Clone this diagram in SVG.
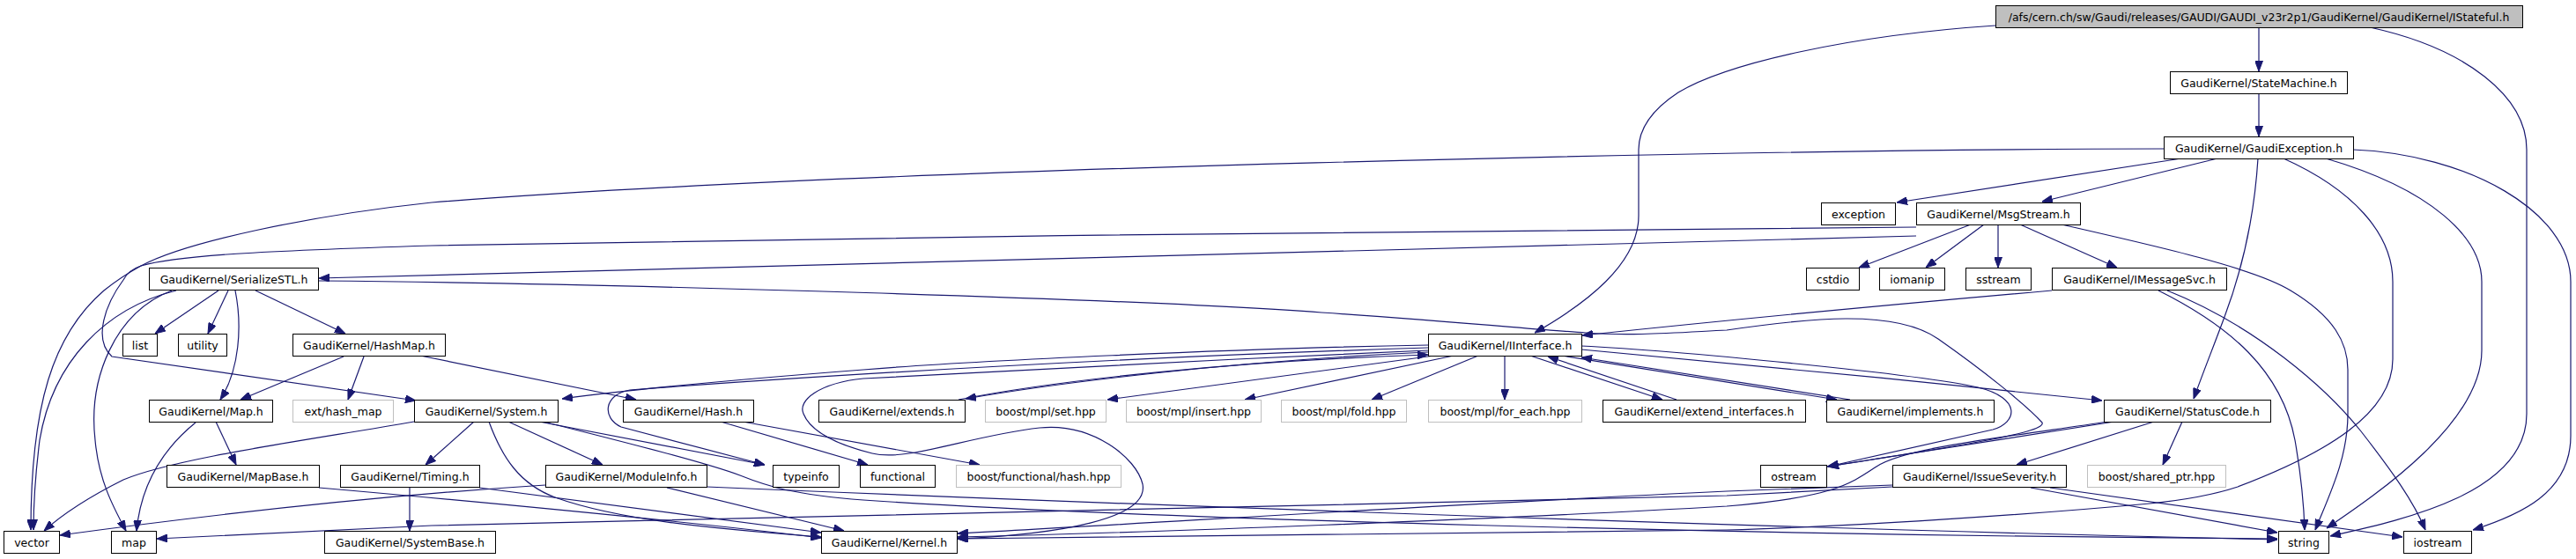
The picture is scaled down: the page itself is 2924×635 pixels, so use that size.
<svg xmlns="http://www.w3.org/2000/svg" width="2924" height="635" viewBox="0 0 2924 635">
<style>
.node rect{fill:#ffffff;stroke:#000000;stroke-width:1}
.node rect.ext{stroke:#bfbfbf}
.node rect.root{fill:#bfbfbf}
.node text{font-family:"DejaVu Sans","Liberation Sans",sans-serif;font-size:12.5px;text-anchor:middle;fill:#000000}
.edges path{fill:none;stroke:#191970;stroke-width:1.2;marker-end:url(#arr)}
</style>
<defs>
<marker id="arr" markerWidth="12" markerHeight="9" refX="12" refY="4.5" orient="auto" markerUnits="userSpaceOnUse">
<path d="M0,0 L12,4.5 L0,9 z" fill="#191970" stroke="#191970" stroke-width="1"/>
</marker>
</defs>
<rect width="2924" height="635" fill="#ffffff"/>
<g id="edges" class="edges">
<path d="M2564,31 L2564,81"/>
<path d="M2265,29 C2100,40 1960,72 1905,105 C1870,128 1860,150 1860,170 L1860,245 C1860,300 1800,345 1742,378"/>
<path d="M2690,31 C2800,55 2868,110 2868,170 L2868,470 C2868,560 2730,590 2645,609"/>
<path d="M2564,106 L2564,155"/>
<path d="M2476,180 L2153,230"/>
<path d="M2517,180 L2318,229"/>
<path d="M2563,180 C2558,260 2540,320 2525,360 C2512,395 2500,425 2490,453"/>
<path d="M2592,180 C2670,215 2716,265 2716,320 L2716,408 C2716,470 2640,515 2540,553 C2510,563 2480,568 2440,572 C2300,585 2100,598 1960,602 C1600,608 1300,611 1087,612"/>
<path d="M2640,180 C2760,215 2817,270 2817,320 L2817,398 C2817,480 2700,560 2641,600"/>
<path d="M2671,170 C2800,175 2918,240 2918,320 L2918,495 C2918,560 2860,585 2807,602"/>
<path d="M2456,169 C2000,170 1000,190 490,230 C350,245 210,275 160,302 C140,313 128,322 118,330 C60,380 35,460 35,602"/>
<path d="M2175,258 C1800,261 1000,268 490,279 C300,285 200,290 160,302 C148,306 143,312 140,318 C120,345 105,385 127,405 L472,455"/>
<path d="M2175,268 C1500,285 900,305 362,316"/>
<path d="M2237,255 L2110,304"/>
<path d="M2252,255 L2186,304"/>
<path d="M2268,255 L2268,304"/>
<path d="M2293,255 L2403,304"/>
<path d="M2340,255 C2450,280 2560,305 2600,330 C2650,360 2665,390 2665,420 L2665,470 C2665,520 2645,560 2628,602"/>
<path d="M2329,330 C2100,350 1900,370 1796,381"/>
<path d="M2450,330 C2530,370 2590,420 2605,500 C2612,540 2615,570 2616,602"/>
<path d="M2460,330 C2560,370 2640,440 2680,490 C2715,535 2740,570 2753,602"/>
<path d="M248,330 L176,379"/>
<path d="M259,330 L236,379"/>
<path d="M267,330 C275,370 272,420 250,454"/>
<path d="M290,330 L392,379"/>
<path d="M200,330 C120,350 60,410 45,500 C40,540 38,570 38,602"/>
<path d="M195,330 C130,355 100,430 108,500 C112,545 128,575 143,603"/>
<path d="M362,319 C700,322 1300,340 1500,355 C1650,365 1750,375 1800,378 C1850,382 1900,378 1960,375 C2050,362 2150,350 2200,385 C2250,420 2300,460 2318,480 C2325,492 2200,510 2075,530"/>
<path d="M390,405 L273,454"/>
<path d="M413,405 L395,454"/>
<path d="M477,404 L722,454"/>
<path d="M245,479 L268,528"/>
<path d="M222,480 C185,510 160,550 155,603"/>
<path d="M538,479 L483,528"/>
<path d="M577,479 L684,528"/>
<path d="M555,479 C570,520 590,550 630,565 C700,590 800,600 932,610"/>
<path d="M612,479 L868,528"/>
<path d="M617,479 C700,500 800,525 840,540 C870,552 900,562 980,568 C1300,590 2000,608 2585,612"/>
<path d="M470,479 C350,500 200,520 140,545 C100,565 70,585 50,603"/>
<path d="M818,479 L985,528"/>
<path d="M843,479 L1112,528"/>
<path d="M1621,392 C1400,396 1100,410 980,420 C850,430 720,442 638,453"/>
<path d="M1621,395 C1300,405 950,425 715,443 C685,448 683,475 705,485 L868,528"/>
<path d="M1621,398 C1400,408 1100,422 980,430 C930,435 905,455 912,470 C920,490 950,505 990,515 C1030,525 1100,495 1180,486 C1240,480 1290,520 1297,550 C1305,590 1200,607 1087,612"/>
<path d="M1621,400 C1400,410 1200,435 1096,453"/>
<path d="M1088,454 C1200,432 1400,410 1621,403"/>
<path d="M1628,404 L1257,454"/>
<path d="M1650,404 L1413,454"/>
<path d="M1678,404 L1557,454"/>
<path d="M1708,404 L1708,454"/>
<path d="M1737,404 L1887,454"/>
<path d="M1903,454 L1757,405"/>
<path d="M1773,404 L2085,454"/>
<path d="M2100,454 L1795,406"/>
<path d="M1795,397 C1960,412 2200,435 2386,455"/>
<path d="M1795,393 C1900,398 2180,425 2245,440 C2295,452 2290,480 2262,488 L2075,530"/>
<path d="M2477,479 L2455,528"/>
<path d="M2445,479 L2289,528"/>
<path d="M2400,479 L2074,530"/>
<path d="M2393,479 C2250,500 2160,510 2130,530 C2100,550 2080,565 1960,575 C1700,590 1300,605 1087,610"/>
<path d="M2148,551 L1960,558 C1600,575 1300,595 1087,606"/>
<path d="M2148,553 L1960,563 C1500,575 1000,585 490,597 L178,612"/>
<path d="M2305,554 L2585,605"/>
<path d="M2327,554 L2727,610"/>
<path d="M757,554 L958,603"/>
<path d="M802,553 C1200,570 2000,600 2585,613"/>
<path d="M619,551 C400,565 200,590 68,608"/>
<path d="M465,554 L465,603"/>
<path d="M544,554 C700,575 850,595 932,605"/>
<path d="M362,554 C600,575 800,595 932,611"/>
</g>
<g id="n_root" class="node"><rect class="root" x="2265.5" y="6.5" width="598" height="25"/><text x="2564" y="23.5">/afs/cern.ch/sw/Gaudi/releases/GAUDI/GAUDI_v23r2p1/GaudiKernel/GaudiKernel/IStateful.h</text></g>
<g id="n_statemachine" class="node"><rect x="2463.5" y="81.5" width="201" height="25"/><text x="2564" y="98.5">GaudiKernel/StateMachine.h</text></g>
<g id="n_gaudiexception" class="node"><rect x="2456.5" y="155.5" width="215" height="25"/><text x="2564" y="172.5">GaudiKernel/GaudiException.h</text></g>
<g id="n_exception" class="node"><rect x="2067.5" y="230.5" width="84" height="25"/><text x="2109.5" y="247.5">exception</text></g>
<g id="n_msgstream" class="node"><rect x="2175.5" y="230.5" width="186" height="25"/><text x="2268.5" y="247.5">GaudiKernel/MsgStream.h</text></g>
<g id="n_serializestl" class="node"><rect x="169.5" y="304.5" width="192" height="25"/><text x="265.5" y="321.5">GaudiKernel/SerializeSTL.h</text></g>
<g id="n_cstdio" class="node"><rect x="2050.5" y="304.5" width="60" height="25"/><text x="2080.5" y="321.5">cstdio</text></g>
<g id="n_iomanip" class="node"><rect x="2133.5" y="304.5" width="74" height="25"/><text x="2170.5" y="321.5">iomanip</text></g>
<g id="n_sstream" class="node"><rect x="2231.5" y="304.5" width="74" height="25"/><text x="2268.5" y="321.5">sstream</text></g>
<g id="n_imessagesvc" class="node"><rect x="2329.5" y="304.5" width="198" height="25"/><text x="2428.5" y="321.5">GaudiKernel/IMessageSvc.h</text></g>
<g id="n_list" class="node"><rect x="139.5" y="379.5" width="39" height="25"/><text x="159" y="396.5">list</text></g>
<g id="n_utility" class="node"><rect x="202.5" y="379.5" width="55" height="25"/><text x="230" y="396.5">utility</text></g>
<g id="n_hashmap" class="node"><rect x="332.5" y="379.5" width="173" height="25"/><text x="419" y="396.5">GaudiKernel/HashMap.h</text></g>
<g id="n_iinterface" class="node"><rect x="1621.5" y="379.5" width="174" height="25"/><text x="1708.5" y="396.5">GaudiKernel/IInterface.h</text></g>
<g id="n_map_h" class="node"><rect x="169.5" y="454.5" width="140" height="25"/><text x="239.5" y="471.5">GaudiKernel/Map.h</text></g>
<g id="n_ext_hash_map" class="node"><rect class="ext" x="332.5" y="454.5" width="114" height="25"/><text x="389.5" y="471.5">ext/hash_map</text></g>
<g id="n_system" class="node"><rect x="470.5" y="454.5" width="163" height="25"/><text x="552" y="471.5">GaudiKernel/System.h</text></g>
<g id="n_hash" class="node"><rect x="707.5" y="454.5" width="148" height="25"/><text x="781.5" y="471.5">GaudiKernel/Hash.h</text></g>
<g id="n_extends" class="node"><rect x="929.5" y="454.5" width="166" height="25"/><text x="1012.5" y="471.5">GaudiKernel/extends.h</text></g>
<g id="n_set" class="node"><rect class="ext" x="1118.5" y="454.5" width="137" height="25"/><text x="1187" y="471.5">boost/mpl/set.hpp</text></g>
<g id="n_insert" class="node"><rect class="ext" x="1278.5" y="454.5" width="153" height="25"/><text x="1355" y="471.5">boost/mpl/insert.hpp</text></g>
<g id="n_fold" class="node"><rect class="ext" x="1454.5" y="454.5" width="142" height="25"/><text x="1525.5" y="471.5">boost/mpl/fold.hpp</text></g>
<g id="n_for_each" class="node"><rect class="ext" x="1621.5" y="454.5" width="174" height="25"/><text x="1708.5" y="471.5">boost/mpl/for_each.hpp</text></g>
<g id="n_extend_interfaces" class="node"><rect x="1819.5" y="454.5" width="230" height="25"/><text x="1934.5" y="471.5">GaudiKernel/extend_interfaces.h</text></g>
<g id="n_implements" class="node"><rect x="2073.5" y="454.5" width="190" height="25"/><text x="2168.5" y="471.5">GaudiKernel/implements.h</text></g>
<g id="n_statuscode" class="node"><rect x="2388.5" y="454.5" width="189" height="25"/><text x="2483" y="471.5">GaudiKernel/StatusCode.h</text></g>
<g id="n_mapbase" class="node"><rect x="189.5" y="528.5" width="173" height="25"/><text x="276" y="545.5">GaudiKernel/MapBase.h</text></g>
<g id="n_timing" class="node"><rect x="386.5" y="528.5" width="158" height="25"/><text x="465.5" y="545.5">GaudiKernel/Timing.h</text></g>
<g id="n_moduleinfo" class="node"><rect x="619.5" y="528.5" width="183" height="25"/><text x="711" y="545.5">GaudiKernel/ModuleInfo.h</text></g>
<g id="n_typeinfo" class="node"><rect x="877.5" y="528.5" width="75" height="25"/><text x="915" y="545.5">typeinfo</text></g>
<g id="n_functional" class="node"><rect x="976.5" y="528.5" width="85" height="25"/><text x="1019" y="545.5">functional</text></g>
<g id="n_hash_hpp" class="node"><rect class="ext" x="1085.5" y="528.5" width="187" height="25"/><text x="1179" y="545.5">boost/functional/hash.hpp</text></g>
<g id="n_ostream" class="node"><rect x="1998.5" y="528.5" width="75" height="25"/><text x="2036" y="545.5">ostream</text></g>
<g id="n_issueseverity" class="node"><rect x="2148.5" y="528.5" width="197" height="25"/><text x="2247" y="545.5">GaudiKernel/IssueSeverity.h</text></g>
<g id="n_shared_ptr" class="node"><rect class="ext" x="2369.5" y="528.5" width="157" height="25"/><text x="2448" y="545.5">boost/shared_ptr.hpp</text></g>
<g id="n_vector" class="node"><rect x="4.5" y="603.5" width="63" height="25"/><text x="36" y="620.5">vector</text></g>
<g id="n_map" class="node"><rect x="126.5" y="603.5" width="51" height="25"/><text x="152" y="620.5">map</text></g>
<g id="n_systembase" class="node"><rect x="368.5" y="603.5" width="194" height="25"/><text x="465.5" y="620.5">GaudiKernel/SystemBase.h</text></g>
<g id="n_kernel" class="node"><rect x="932.5" y="603.5" width="154" height="25"/><text x="1009.5" y="620.5">GaudiKernel/Kernel.h</text></g>
<g id="n_string" class="node"><rect x="2586.5" y="603.5" width="57" height="25"/><text x="2615" y="620.5">string</text></g>
<g id="n_iostream" class="node"><rect x="2728.5" y="603.5" width="77" height="25"/><text x="2767" y="620.5">iostream</text></g>
</svg>
